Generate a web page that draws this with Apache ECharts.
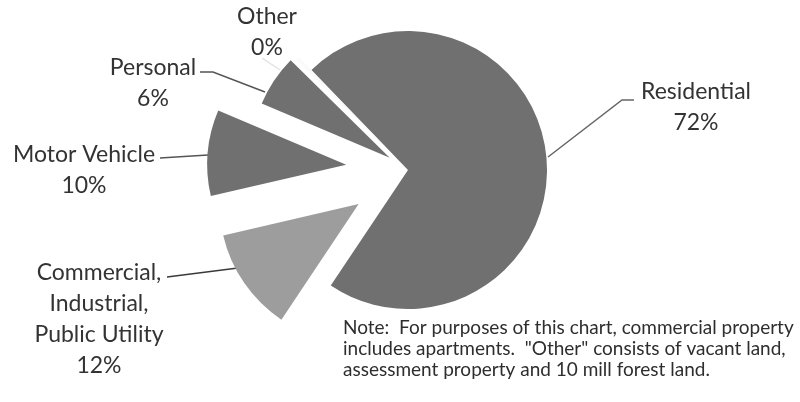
<!DOCTYPE html>
<html>
<head>
<meta charset="utf-8">
<script src="https://cdn.jsdelivr.net/npm/echarts@6/dist/echarts.min.js"></script>
<style>
  html, body { margin: 0; padding: 0; background: #fff; }
  #chart { width: 800px; height: 402px; }
</style>
</head>
<body>
<div id="chart"></div>
<script>
// share of the tax base by property class (percent)
const categories = ['Residential', 'Commercial,\nIndustrial,\nPublic Utility', 'Motor Vehicle', 'Personal', 'Other']
const shares = [71.6, 12.0, 10.0, 6.0, 0.4]

// looks and layout, kept apart from the data
const colors = ['#707070', '#9d9d9d', '#707070', '#707070', '#fafafa']
const lineColors = ['#666', '#3a3a3a', '#555', '#555', '#e2e2e2']
const explode = [0, 60, 62, 22, 18]
const labelAt = [[696, 107], [99, 319], [84, 170], [153, 83], [267, 32]]
const leaders = [
  [[548, 157], [622, 100], [634, 100]],
  [[238, 268], [167, 277]],
  [[208, 155], [160, 158]],
  [[265, 92], [213, 72], [200, 72]],
  [[280, 70], [262, 58]]
]
const pieCenter = [408, 170]
const pieRadius = 139
const startAngle = 134

const note = 'Note:  For purposes of this chart, commercial property\n' +
  'includes apartments.  "Other" consists of vacant land,\n' +
  'assessment property and 10 mill forest land.'

const chart = echarts.init(document.getElementById('chart'))

// one series per slice so every slice can be pulled out by its own amount
const total = shares.reduce((a, b) => a + b, 0)
let before = 0
const series = shares.map((v, i) => {
  const mid = (startAngle - 360 * (before + v / 2) / total) * Math.PI / 180
  before += v
  return {
    type: 'pie',
    center: [pieCenter[0] + Math.cos(mid) * explode[i], pieCenter[1] - Math.sin(mid) * explode[i]],
    radius: pieRadius,
    startAngle: startAngle,
    clockwise: true,
    avoidLabelOverlap: false,
    silent: true,
    animation: false,
    data: categories.map((name, j) => ({
      name: name,
      value: shares[j],
      itemStyle: { color: j === i ? colors[j] : 'rgba(0,0,0,0)' },
      label: { show: j === i },
      labelLine: { show: j === i, lineStyle: { color: lineColors[j] } }
    })),
    itemStyle: { borderWidth: 0 },
    label: {
      position: 'outside',
      formatter: p => p.name + '\n' + Math.round(p.percent) + '%',
      fontFamily: 'Lato',
      fontSize: 23,
      lineHeight: 31,
      color: '#333',
      align: 'center'
    },
    labelLine: {
      length: 20,
      length2: 10,
      lineStyle: { width: 1.5 }
    },
    labelLayout: () => ({
      x: labelAt[i][0],
      y: labelAt[i][1],
      align: 'center',
      verticalAlign: 'middle',
      labelLinePoints: leaders[i]
    })
  }
})

chart.setOption({
  backgroundColor: '#fff',
  title: {
    text: note,
    left: 343,
    top: 317,
    padding: 0,
    textStyle: {
      fontFamily: 'Lato',
      fontSize: 19,
      fontWeight: 'normal',
      lineHeight: 21,
      color: '#2e2e2e'
    }
  },
  series: series
})
</script>
</body>
</html>
